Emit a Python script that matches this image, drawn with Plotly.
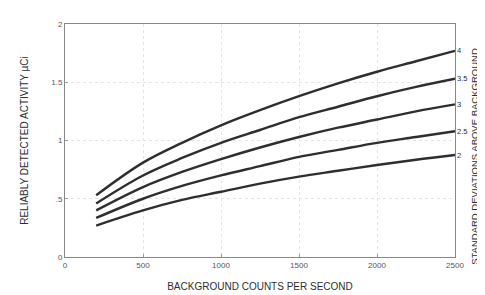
import plotly.graph_objects as go

background_cps = [200, 500, 750, 1000, 1250, 1500, 1750, 2000, 2250, 2500]
sigma_labels = ["4", "3.5", "3", "2.5", "2"]
activity_4 = [0.53, 0.81, 0.98, 1.13, 1.26, 1.38, 1.49, 1.59, 1.68, 1.77]
activity_35 = [0.46, 0.70, 0.85, 0.98, 1.09, 1.20, 1.29, 1.38, 1.46, 1.53]
activity_3 = [0.40, 0.60, 0.73, 0.84, 0.94, 1.03, 1.11, 1.18, 1.25, 1.31]
activity_25 = [0.335, 0.50, 0.61, 0.70, 0.78, 0.86, 0.92, 0.98, 1.03, 1.08]
activity_2 = [0.27, 0.40, 0.49, 0.56, 0.63, 0.69, 0.74, 0.79, 0.835, 0.875]
series = [activity_4, activity_35, activity_3, activity_25, activity_2]

x_ticks = [0, 500, 1000, 1500, 2000, 2500]
y_ticks = [0, 0.5, 1, 1.5, 2]
y_tick_text = ["0", ".5", "1", "1.5", "2"]

FONT = "Liberation Sans"
INK = "#2e2e2e"

fig = go.Figure()
for lab, ys in zip(sigma_labels, series):
    fig.add_trace(go.Scatter(x=background_cps, y=ys, mode="lines",
                             line=dict(color=INK, width=2.4, shape="spline"),
                             showlegend=False, hoverinfo="skip"))
    fig.add_annotation(x=background_cps[-1], y=ys[-1], text=lab, showarrow=False,
                       xanchor="left", xshift=1, borderpad=0,
                       font=dict(size=7.5, color=INK, family=FONT))

fig.add_annotation(xref="paper", yref="paper", x=1.068, y=0.43,
                   text="STANDARD DEVIATIONS ABOVE BACKGROUND", textangle=-90,
                   showarrow=False, borderpad=0,
                   font=dict(size=9.5, color=INK, family=FONT))

fig.update_layout(
    width=485, height=295,
    margin=dict(l=57, r=38, t=16, b=46),
    paper_bgcolor="white", plot_bgcolor="white",
    font=dict(family=FONT, color=INK),
)
fig.update_xaxes(range=[0, 2500], tickvals=x_ticks, ticktext=[str(v) for v in x_ticks],
                 tickfont=dict(size=8, color="#555"),
                 showgrid=True, gridcolor="#e4e4e4", griddash="dot", gridwidth=1,
                 showline=True, linecolor="#888", linewidth=1, mirror=True,
                 ticks="inside", ticklen=3, tickcolor="#999",
                 zeroline=False,
                 title=dict(text="BACKGROUND COUNTS PER SECOND", font=dict(size=10, color=INK), standoff=14))
fig.update_yaxes(range=[0, 2], tickvals=y_ticks, ticktext=y_tick_text,
                 tickfont=dict(size=8, color="#555"),
                 showgrid=True, gridcolor="#e4e4e4", griddash="dot", gridwidth=1,
                 showline=True, linecolor="#888", linewidth=1, mirror=True,
                 ticks="inside", ticklen=3, tickcolor="#999",
                 zeroline=False,
                 title=dict(text="RELIABLY DETECTED ACTIVITY µCi", font=dict(size=10, color=INK), standoff=20))

fig.write_html("out.html")
